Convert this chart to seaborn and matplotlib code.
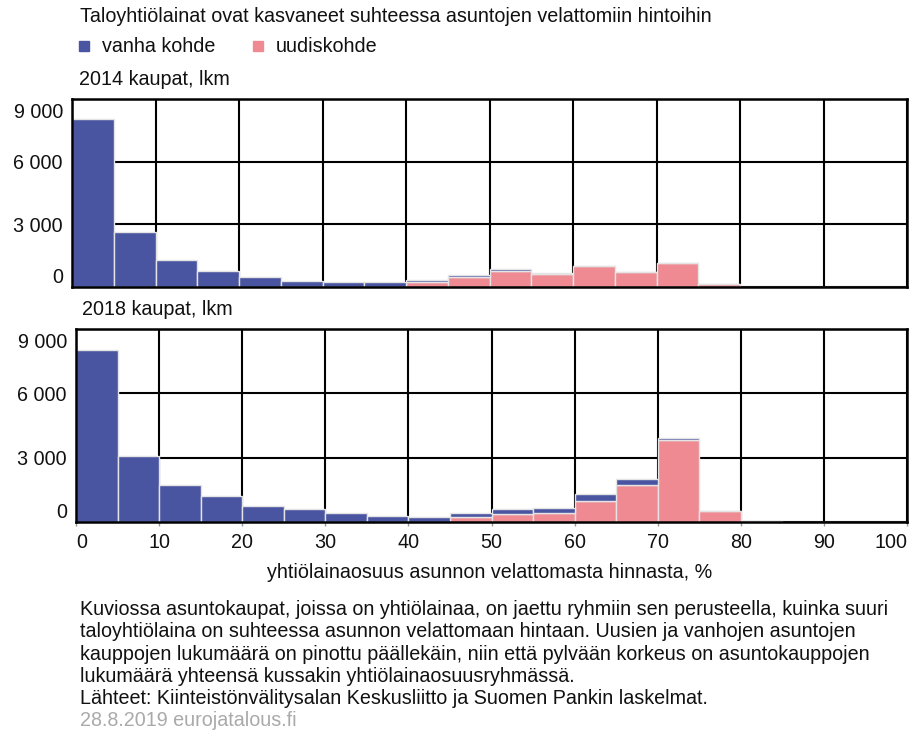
import numpy as np
import pandas as pd
import matplotlib
matplotlib.use("Agg")
import matplotlib.pyplot as plt
import matplotlib.transforms as mtransforms
import seaborn as sns
from matplotlib.lines import Line2D

# ---------------- data ----------------
bin_edges = list(range(0, 105, 5))
bin_mids = [e + 2.5 for e in bin_edges[:-1]]

old_2014 = [8050, 2650, 1280, 780, 460, 285, 260, 220, 112, 80, 112, 64, 0, 0, 0, 0, 0, 0, 0, 0]
new_2014 = [0, 0, 0, 0, 0, 0, 0, 0, 224, 479, 767, 623, 1022, 735, 1134, 140, 0, 0, 0, 0]
old_2018 = [8040, 3075, 1755, 1210, 775, 605, 435, 280, 233, 186, 248, 233, 295, 264, 109, 0, 0, 0, 0, 0]
new_2018 = [0, 0, 0, 0, 0, 0, 0, 0, 0, 233, 388, 450, 1009, 1739, 3835, 528, 75, 0, 0, 0]

series_labels = ["vanha kohde", "uudiskohde"]
panel_titles = ["2014 kaupat, lkm", "2018 kaupat, lkm"]
xticks = list(range(0, 101, 10))
yticks = [0, 3000, 6000, 9000]
ytick_labels = ["0", "3 000", "6 000", "9 000"]

title = "Taloyhtiölainat ovat kasvaneet suhteessa asuntojen velattomiin hintoihin"
xlabel = "yhtiölainaosuus asunnon velattomasta hinnasta, %"
notes = [
    "Kuviossa asuntokaupat, joissa on yhtiölainaa, on jaettu ryhmiin sen perusteella, kuinka suuri",
    "taloyhtiölaina on suhteessa asunnon velattomaan hintaan. Uusien ja vanhojen asuntojen",
    "kauppojen lukumäärä on pinottu päällekäin, niin että pylvään korkeus on asuntokauppojen",
    "lukumäärä yhteensä kussakin yhtiölainaosuusryhmässä.",
    "Lähteet: Kiinteistönvälitysalan Keskusliitto ja Suomen Pankin laskelmat.",
]
source = "28.8.2019 eurojatalous.fi"

colors = {"vanha kohde": "#4A55A2", "uudiskohde": "#EF8A92"}

# ---------------- style ----------------
sns.set_theme(style="white")
plt.rcParams["font.family"] = ["Liberation Sans", "DejaVu Sans"]
FS = 14.2
TXT = "#111111"

W, H = 913, 736
fig = plt.figure(figsize=(W / 100, H / 100), dpi=100)
fig.patch.set_facecolor("white")


def fx(px):
    return px / W


def fy(py):
    return 1 - py / H


ax1 = fig.add_axes([fx(72), fy(287), (907 - 72) / W, (287 - 99) / H])
ax2 = fig.add_axes([fx(76), fy(522.3), (907 - 76) / W, (522.3 - 329) / H])


def make_df(old, new):
    return pd.DataFrame({
        "x": bin_mids + bin_mids,
        "n": old + new,
        "kohde": [series_labels[0]] * len(old) + [series_labels[1]] * len(new),
    })


down = mtransforms.ScaledTranslation(0, -4 / 100, fig.dpi_scale_trans)

for ax, old, new, is_bottom in [(ax1, old_2014, new_2014, False), (ax2, old_2018, new_2018, True)]:
    df = make_df(old, new)
    sns.histplot(data=df, x="x", weights="n", hue="kohde", hue_order=series_labels,
                 bins=bin_edges, multiple="stack", palette=colors, alpha=1,
                 edgecolor="#e4e4e4", linewidth=1, legend=False, ax=ax)
    ax.set_xlim(0, 100)
    ax.set_ylim(0, 9000)
    ax.set_xticks(xticks)
    ax.set_yticks(yticks, ytick_labels)
    ax.set_xlabel("")
    ax.set_ylabel("")
    ax.grid(True, color="black", linewidth=1.5)
    ax.set_axisbelow(True)
    for s in ax.spines.values():
        s.set_visible(True)
        s.set_color("black")
        s.set_linewidth(1.8)
    ax.tick_params(axis="y", length=0, pad=6.5, labelsize=FS, labelcolor=TXT)
    yt = ax.yaxis.get_major_ticks()
    yt[0].label1.set_verticalalignment("bottom")
    yt[-1].label1.set_verticalalignment("top")
    yt[-1].label1.set_transform(yt[-1].label1.get_transform() + down)
    if is_bottom:
        ax.tick_params(axis="x", length=3, color="#999999", width=1, pad=5,
                       labelsize=FS, labelcolor=TXT, bottom=True)
        xt = ax.xaxis.get_major_ticks()
        xt[0].label1.set_horizontalalignment("left")
        xt[-1].label1.set_horizontalalignment("right")
    else:
        ax.tick_params(axis="x", length=0, labelbottom=False)

# ---------------- texts ----------------
fig.text(fx(80), fy(22), title, fontsize=FS, va="baseline", color=TXT)

handles = [Line2D([0], [0], marker="s", ls="none", markerfacecolor=colors[l],
                  markeredgecolor=colors[l], markersize=6.5) for l in series_labels]
fig.legend(handles=handles, labels=series_labels, loc="center left",
           bbox_to_anchor=(fx(76), fy(47)), ncol=2, frameon=False, fontsize=FS,
           handlelength=0.8, handletextpad=0.5, columnspacing=1.8,
           borderaxespad=0, borderpad=0, labelcolor=TXT)

fig.text(fx(79), fy(85), panel_titles[0], fontsize=FS, va="baseline", color=TXT)
fig.text(fx(82), fy(315), panel_titles[1], fontsize=FS, va="baseline", color=TXT)

fig.text(fx(490), fy(578), xlabel, fontsize=FS, va="baseline", ha="center", color=TXT)

for i, line in enumerate(notes):
    fig.text(fx(80), fy(615 + i * 22.3), line, fontsize=FS, va="baseline", color=TXT)
fig.text(fx(80), fy(615 + 5 * 22.3), source, fontsize=FS, va="baseline", color="#aaaaaa")

fig.savefig("out.png", dpi=100, facecolor="white")
